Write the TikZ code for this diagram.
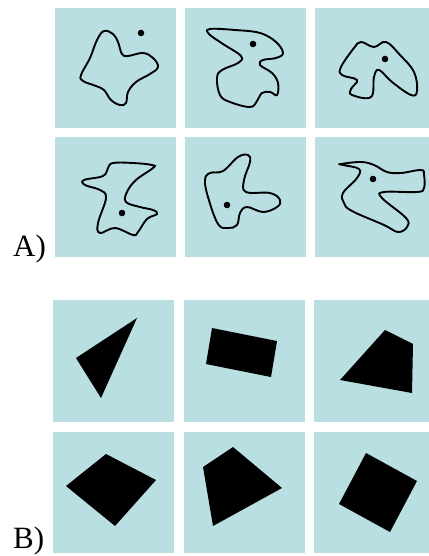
\documentclass[tikz,border=0pt]{standalone}
\usepackage{fontspec}
\setmainfont{Liberation Serif}
\definecolor{panelbg}{RGB}{186,223,227}
\begin{document}
\begin{tikzpicture}[x=1pt,y=-1pt,
  panel/.style={fill=panelbg,draw=none},
  blob/.style={draw=black,line width=1.9pt,smooth cycle,tension=0.65},
  spot/.style={fill=black},
  poly/.style={fill=black},
  lbl/.style={font=\fontsize{31}{31}\selectfont,anchor=base west,inner sep=0pt}]
\useasboundingbox (0,0) rectangle (428,556);
% panels A
\foreach \x in {55,185,315}{
  \fill[panel] (\x,8) rectangle ++(121,120);
  \fill[panel] (\x,137) rectangle ++(121,120);
}
% panels B
\foreach \x in {53,184,314}{
  \fill[panel] (\x,300) rectangle ++(121,122);
  \fill[panel] (\x,432) rectangle ++(121,121);
}
% A1
\draw[blob] plot coordinates {(104,31) (113,34) (118,42) (122,54) (128,56) (143,53) (153,58) (158,67) (150,74) (136,82) (128,92) (126,103) (120,105) (111,100) (104,90) (96,86) (83,81) (81,75) (90,58) (97,40)};
\fill[spot] (141,33) circle (3.3);
% A2
\draw[blob] plot coordinates {(210,29) (235,30) (260,33) (276,42) (283,53) (276,58) (263,60) (260,65) (272,73) (278,83) (277,95) (270,92) (262,93) (257,101) (250,107) (230,102) (220,95) (217,78) (222,70) (238,63) (241,56) (223,44) (209,34)};
\fill[spot] (253,44) circle (3.3);
% A3
\draw[blob] plot coordinates {(361,42) (374,47) (386,42) (400,55) (414,72) (417,91) (411,95) (392,82) (379,70) (374,77) (371,97) (352,95) (351,89) (357,80) (342,75) (341,67) (354,48)};
\fill[spot] (385,59) circle (3.3);
% A4
\draw[blob] plot coordinates {(113,163) (133,163) (152,165) (153,168) (136,180) (127,192) (126,202) (140,207) (153,210) (157,214) (147,219) (138,232) (133,235) (115,228) (100,233) (98,223) (106,198) (100,190) (85,185) (84,180) (103,176) (108,168)};
\fill[spot] (122,213) circle (3.3);
% A5
\draw[blob] plot coordinates {(248,155) (250,162) (244,180) (246,192) (270,193) (280,200) (277,207) (263,212) (247,207) (240,213) (237,225) (228,228) (218,224) (208,197) (205,180) (210,173) (223,171) (238,157)};
\fill[spot] (227,205) circle (3.3);
% A6
\draw[blob] plot coordinates {(341,164) (361,162) (374,165) (387,172) (401,173) (421,170) (424,175) (424,188) (417,192) (384,192) (382,198) (406,218) (407,227) (398,232) (384,225) (352,211) (344,203) (343,193) (357,178) (359,169) (343,165)};
\fill[spot] (373,179) circle (3.3);
% B shapes
\fill[poly] (137,318) -- (76,358) -- (101,398) -- cycle;
\fill[poly] (212,328) -- (277,341) -- (271,377) -- (206,364) -- cycle;
\fill[poly] (385,330) -- (413,344) -- (412,393) -- (340,380) -- cycle;
\fill[poly] (106,454) -- (156,480) -- (115,526) -- (66,486) -- cycle;
\fill[poly] (233,447) -- (282,488) -- (213,526) -- (203,467) -- cycle;
\fill[poly] (366,453) -- (417,481) -- (390,532) -- (339,504) -- cycle;
% labels
\node[lbl] (la) at (13,256) {A)};
\node[lbl] (lb) at (13,548) {B)};
\end{tikzpicture}
\end{document}
